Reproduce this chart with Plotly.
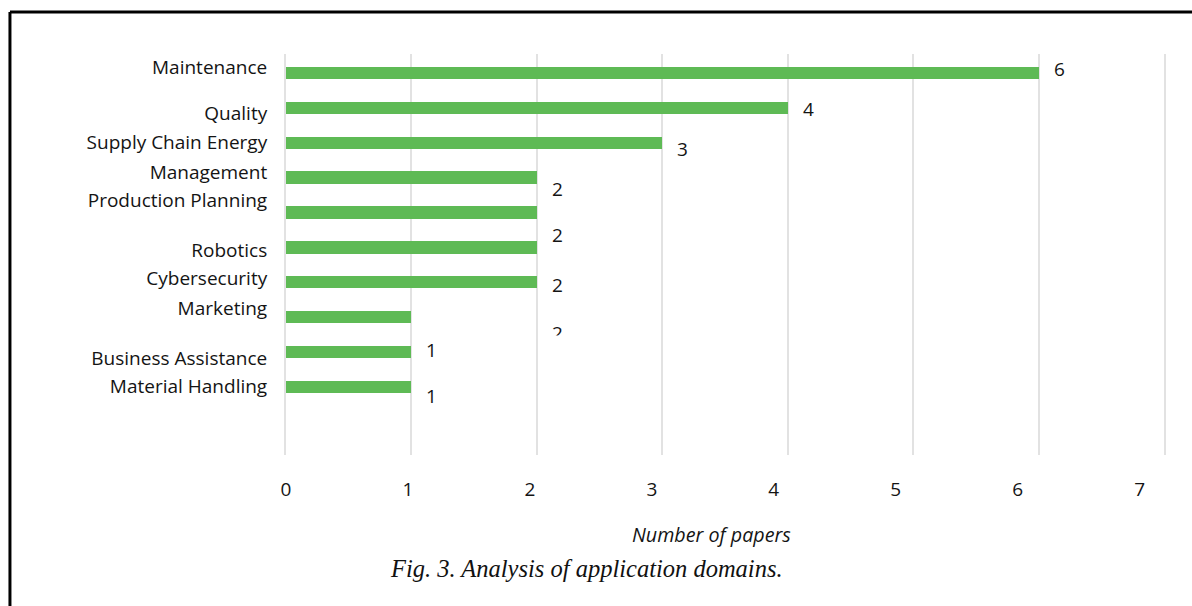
import plotly.graph_objects as go

# ---- data ----
categories = ["Maintenance", "Quality", "Supply Chain", "Energy Management",
              "Production Planning", "Robotics", "Cybersecurity", "Marketing",
              "Business Assistance", "Material Handling"]
papers = [6, 4, 3, 2, 2, 2, 2, 1, 1, 1]
axis_labels = ["Maintenance", "Quality", "Supply Chain Energy", "Management",
               "Production Planning", "Robotics", "Cybersecurity", "Marketing",
               "Business Assistance", "Material Handling"]
value_labels = ["6", "4", "3", "2", "2", "2", "2", "", "1", "1"]
x_ticks = [0, 1, 2, 3, 4, 5, 6, 7]

# ---- layout offsets (in category units, as seen in the reference) ----
axis_label_shift = [-0.16, 0.16, 0.0, -0.16, -0.34, 0.09, -0.10, -0.24, 0.17, 0.0]
value_label_shift = [-0.11, 0.03, 0.17, 0.34, 0.65, 1.09, 1.46, 0.0, -0.05, 0.25]
clipped_label_index = 6  # this value label is cut off half-way in the reference

FONT = "Open Sans"
TXT = "#141414"
GREEN = "#5EBA55"
GRID = "#e2e2e2"

pos = list(range(len(categories)))

fig = go.Figure()
fig.add_trace(go.Bar(
    x=papers, y=pos, orientation="h", width=0.353,
    marker=dict(color=GREEN, line=dict(width=0)),
    hovertext=categories, showlegend=False,
))
# invisible trace to carry the tick-label axis
fig.add_trace(go.Scatter(x=x_ticks, y=[pos[0]] * len(x_ticks), xaxis="x2",
                         mode="markers", marker=dict(opacity=0),
                         showlegend=False, hoverinfo="skip"))

annotations = []
for v, p, t, s in zip(papers, pos, value_labels, value_label_shift):
    if t:
        annotations.append(dict(x=v, y=p + s, xref="x", yref="y", text=t,
                                showarrow=False, xanchor="left", yanchor="middle",
                                xshift=13, font=dict(family=FONT, size=19, color=TXT)))
# white mask hiding the lower half of the clipped label
annotations.append(dict(x=papers[clipped_label_index],
                        y=pos[clipped_label_index] + value_label_shift[clipped_label_index],
                        xref="x", yref="y", text=" ", showarrow=False,
                        xanchor="left", yanchor="top", xshift=10, yshift=-2,
                        width=22, height=14, bgcolor="white", borderpad=0,
                        font=dict(size=4)))

annotations.append(dict(x=0.485, y=-0.199, xref="paper", yref="paper",
                        text="Number of papers", showarrow=False,
                        xanchor="center", yanchor="middle",
                        font=dict(family=FONT, size=19.7, color=TXT, style="italic")))
annotations.append(dict(x=0.3417, y=-0.282, xref="paper", yref="paper",
                        text="Fig. 3. Analysis of application domains.", showarrow=False,
                        xanchor="center", yanchor="middle",
                        font=dict(family="Liberation Serif", size=24.5, color="#111111",
                                  style="italic")))

shapes = [
    dict(type="line", xref="paper", yref="paper", x0=-0.3144, x1=1.04,
         y0=1.1047, y1=1.1047, line=dict(color="black", width=3)),
    dict(type="line", xref="paper", yref="paper", x0=-0.3144, x1=-0.3144,
         y0=1.1047, y1=-0.40, line=dict(color="black", width=3)),
]

fig.update_layout(
    width=1192, height=606, autosize=False,
    margin=dict(l=286, r=28, t=54, b=151),
    plot_bgcolor="white", paper_bgcolor="white",
    font=dict(family=FONT, size=19, color=TXT),
    bargap=0,
    xaxis=dict(range=[0, 7], tickvals=x_ticks, showticklabels=False,
               showgrid=True, gridcolor=GRID, gridwidth=2,
               zeroline=False, showline=False, fixedrange=True),
    xaxis2=dict(range=[0, 7.2], tickvals=x_ticks, overlaying="x", side="bottom",
                showgrid=False, zeroline=False, showline=False,
                ticks="", ticklabelstandoff=21,
                tickfont=dict(family=FONT, size=19, color=TXT)),
    yaxis=dict(range=[10.955, -0.545], tickmode="array",
               tickvals=[p + s for p, s in zip(pos, axis_label_shift)],
               ticktext=axis_labels, showgrid=False, zeroline=False,
               showline=True, linecolor=GRID, linewidth=2, mirror=True,
               ticks="", ticklabelstandoff=13,
               tickfont=dict(family=FONT, size=19, color=TXT)),
    annotations=annotations,
    shapes=shapes,
)

fig.write_html("out.html")
